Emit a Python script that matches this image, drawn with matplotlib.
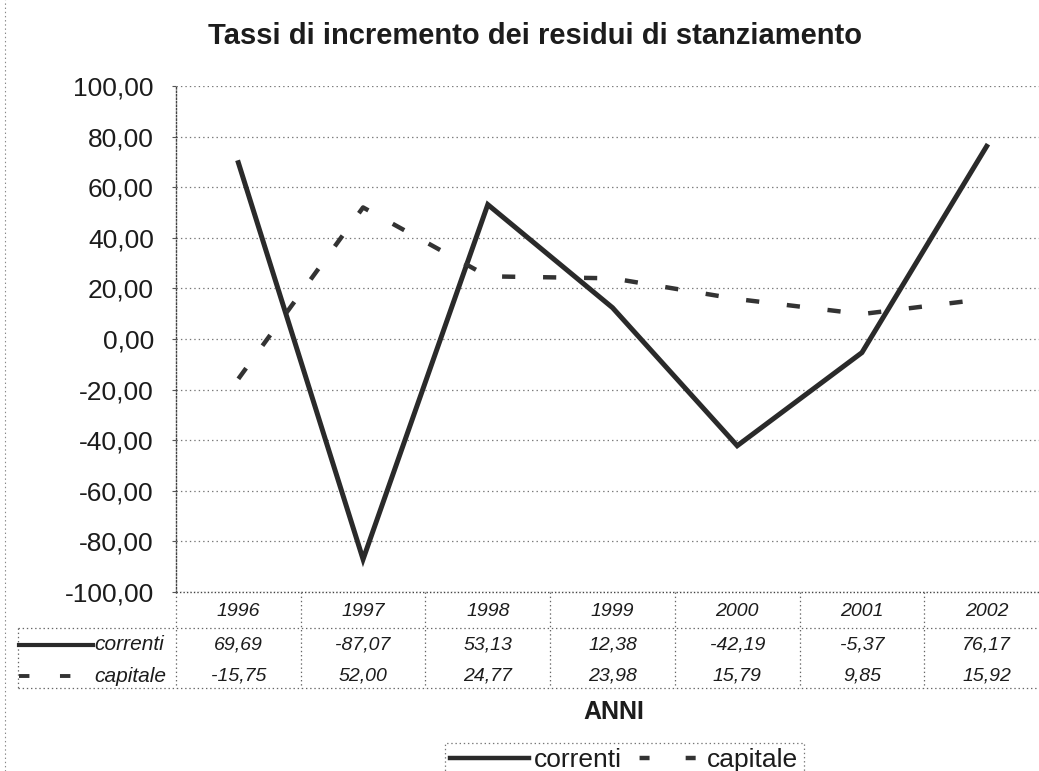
import matplotlib
matplotlib.use("Agg")
import matplotlib.pyplot as plt
from matplotlib.lines import Line2D
from matplotlib import transforms

plt.rcParams['font.family'] = ['Liberation Sans', 'DejaVu Sans']
plt.rcParams['lines.scale_dashes'] = False

# ---- data ----
years = ["1996", "1997", "1998", "1999", "2000", "2001", "2002"]
correnti = [69.69, -87.07, 53.13, 12.38, -42.19, -5.37, 76.17]
capitale = [-15.75, 52.00, 24.77, 23.98, 15.79, 9.85, 15.92]
correnti_lbl = ["69,69", "-87,07", "53,13", "12,38", "-42,19", "-5,37", "76,17"]
capitale_lbl = ["-15,75", "52,00", "24,77", "23,98", "15,79", "9,85", "15,92"]
yticks = [-100, -80, -60, -40, -20, 0, 20, 40, 60, 80, 100]
title = "Tassi di incremento dei residui di stanziamento"

W, H = 1039, 771
fig = plt.figure(figsize=(W / 100, H / 100), dpi=100)

def fx(px):
    return px / W

def fy(py):
    return 1 - py / H

ax_left, ax_right, ax_top, ax_bot = 176, 1049, 86, 592
ax = fig.add_axes([fx(ax_left), fy(ax_bot), fx(ax_right - ax_left), (ax_bot - ax_top) / H])
ax.set_xlim(-0.5, len(years) - 0.5)
ax.set_ylim(-100, 100)

TXT = '#1c1c1c'
C1 = '#2a2a2a'
C2 = '#333333'
dash = (0, (9.5, 20))

x = list(range(len(years)))
l1, = ax.plot(x, correnti, color=C1, lw=3.6, solid_joinstyle='miter', label='correnti', zorder=3)
l2, = ax.plot(x, capitale, color=C2, lw=3.2, linestyle=dash, dash_capstyle='butt', label='capitale', zorder=3)

ax.set_yticks(yticks)
ax.set_yticklabels([f"{v},00" for v in yticks], fontsize=19, color=TXT)
ax.tick_params(axis='y', length=3, width=0.8, pad=13, color='#555')
ax.set_xticks([])
for yv in yticks:
    ax.axhline(yv, color='#777', lw=0.9, ls=(0, (1, 2.2)), zorder=1)
for s in ['right', 'bottom', 'top']:
    ax.spines[s].set_visible(False)
ax.spines['left'].set_linestyle((0, (1, 1.5)))
ax.spines['left'].set_color('#444')
ax.spines['left'].set_linewidth(1.0)

# ---- title ----
fig.text(fx(535), fy(36), title, ha='center', va='center', fontsize=21,
         fontweight='bold', color=TXT)

# ---- data table ----
bt = transforms.blended_transform_factory(ax.transData, fig.transFigure)
grid_kw = dict(color='#666', lw=0.9, ls=(0, (1, 2)))
y_top, y_mid, y_bottom = 592, 628, 688
fig.add_artist(Line2D([fx(18), fx(W + 20)], [fy(y_mid)] * 2, **grid_kw))
fig.add_artist(Line2D([fx(18), fx(W + 20)], [fy(y_bottom)] * 2, **grid_kw))
fig.add_artist(Line2D([fx(ax_left), fx(W + 20)], [fy(y_top)] * 2, color='#444', lw=1.0, ls=(0, (1, 1.5))))
fig.add_artist(Line2D([fx(18), fx(18)], [fy(y_mid), fy(y_bottom)], **grid_kw))
for i in range(len(years) + 1):
    fig.add_artist(Line2D([i - 0.5, i - 0.5], [fy(y_top), fy(y_bottom)], transform=bt, **grid_kw))

tkw = dict(ha='center', va='center', fontsize=14, style='italic', color=TXT, transform=bt)
for i, yr in enumerate(years):
    fig.text(i, fy(611), yr, **tkw)
    fig.text(i, fy(645), correnti_lbl[i], **tkw)
    fig.text(i, fy(676), capitale_lbl[i], **tkw)

# row labels with keys
fig.add_artist(Line2D([fx(19), fx(93)], [fy(645)] * 2, color=C1, lw=3.0))
fig.add_artist(Line2D([fx(19), fx(76)], [fy(676)] * 2, color=C2, lw=2.8,
                      ls=(0, (7.5, 22)), dash_capstyle='butt'))
fig.text(fx(94), fy(645), "correnti", ha='left', va='center', fontsize=15, style='italic', color=TXT)
fig.text(fx(94), fy(676), "capitale", ha='left', va='center', fontsize=15, style='italic', color=TXT)

# axis title
fig.text(fx(614), fy(712), "ANNI", ha='center', va='center', fontsize=18, fontweight='bold', color=TXT)

# outer left border
fig.add_artist(Line2D([fx(5), fx(5)], [0, 1], color='#888', lw=0.8, ls=(0, (1, 2))))

# ---- legend ----
h1 = Line2D([], [], color=C1, lw=3.2)
h2 = Line2D([], [], color=C2, lw=3.2, ls=(22, (7.2, 26)), dash_capstyle='butt')
leg = fig.legend(handles=[h1, h2], labels=['correnti', 'capitale'], loc='upper left',
                 bbox_to_anchor=(fx(445), fy(743)),
                 ncol=2, fontsize=19, frameon=True, fancybox=False,
                 handlelength=3.0, handletextpad=0.15, columnspacing=0.1,
                 borderpad=0.2, borderaxespad=0)
fr = leg.get_frame()
fr.set_edgecolor('#555')
fr.set_linestyle((0, (1, 2)))
fr.set_linewidth(0.9)
for t in leg.get_texts():
    t.set_color(TXT)

fig.savefig("out.png", dpi=100)
